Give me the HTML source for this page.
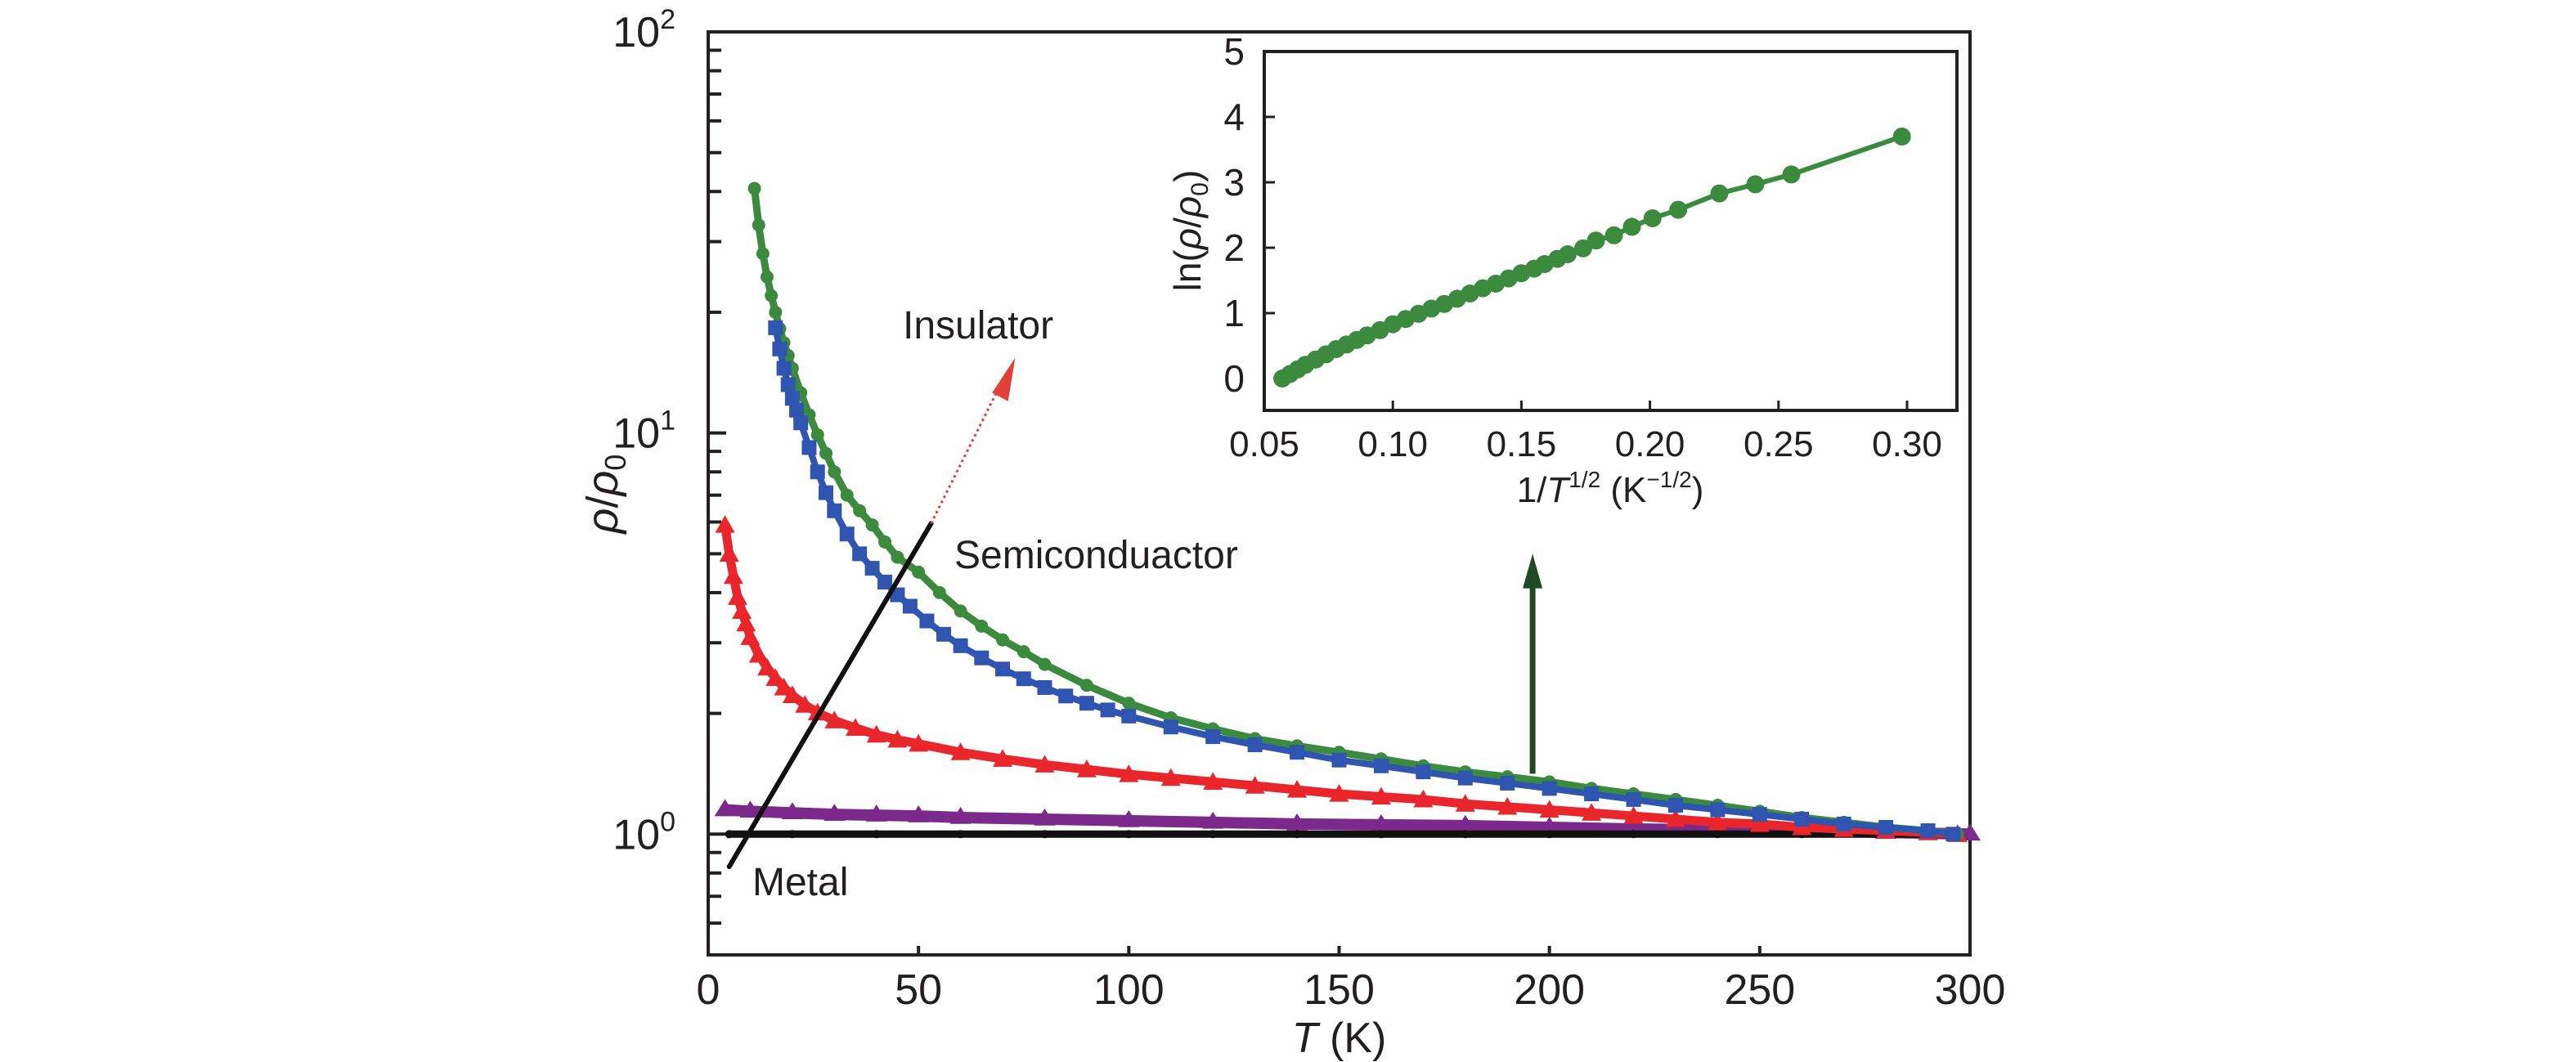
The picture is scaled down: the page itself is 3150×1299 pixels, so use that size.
<!DOCTYPE html>
<html><head><meta charset="utf-8"><style>
html,body{margin:0;padding:0;background:#fff}
svg{display:block}
text{font-family:"Liberation Sans Narrow","Liberation Sans",sans-serif;fill:#231f20}
</style></head><body>
<svg id="chart" width="3150" height="1299" viewBox="0 0 3150 1299" xmlns="http://www.w3.org/2000/svg">
<g id="main"></g><g id="inset"></g>
</svg>
<script>
// ---- main chart data ----
const greenT = [11,12,13,14,15,16,17,18,19,20,22,24,26,28,30,33,36,39,42,45,50,55,60,65,70,75,80,90,100,110,120,130,140,150,160,170,180,190,200,210,220,230,240,250,260,270,280,290,297];
const greenR = [40.7,33,28,24.5,22,20,18.2,16.8,15.6,14.5,12.6,11.1,9.9,8.9,8.0,7.0,6.4,5.9,5.35,4.9,4.5,4.0,3.6,3.3,3.05,2.85,2.65,2.35,2.12,1.95,1.83,1.73,1.66,1.60,1.54,1.48,1.43,1.39,1.35,1.30,1.26,1.22,1.18,1.14,1.10,1.07,1.04,1.02,1.0];
const blueT = [16,17,18,19,20,21,22,24,26,28,30,33,36,39,42,45,48,52,56,60,65,70,75,80,85,90,95,100,110,120,130,140,150,160,170,180,190,200,210,220,230,240,250,260,270,280,290,296];
const blueR = [18.3,16.2,14.5,13.2,12.2,11.4,10.6,9.2,8.0,7.1,6.4,5.6,5.0,4.6,4.25,3.95,3.7,3.4,3.15,2.95,2.75,2.58,2.44,2.32,2.21,2.12,2.04,1.97,1.85,1.75,1.67,1.60,1.53,1.48,1.43,1.38,1.34,1.30,1.26,1.22,1.18,1.15,1.12,1.09,1.06,1.04,1.02,1.0];
const redT = [4,5,6,7,8,9,10,12,14,16,18,20,23,26,30,35,40,45,50,60,70,80,90,100,110,120,130,140,150,160,170,180,190,200,210,220,230,240,250,260,270,280,290,297];
const redR = [5.9,5.0,4.4,3.9,3.6,3.35,3.1,2.8,2.6,2.45,2.32,2.22,2.1,2.01,1.92,1.84,1.77,1.72,1.68,1.60,1.54,1.49,1.45,1.41,1.38,1.35,1.32,1.29,1.26,1.24,1.22,1.19,1.17,1.15,1.13,1.11,1.09,1.07,1.06,1.04,1.03,1.02,1.01,1.0];
const purpleT = [4,10,20,30,40,50,60,80,100,120,140,160,180,200,220,240,260,280,300];
const purpleR = [1.15,1.14,1.13,1.12,1.115,1.11,1.10,1.09,1.08,1.07,1.06,1.055,1.05,1.04,1.03,1.025,1.02,1.01,1.0];
const blackT = [5,20,40,60,80,100,120,140,160,180,200,220,240,260,280,294];
const blackR = [1,1,1,1,1,1,1,1,1,1,1,1,1,1,1,1];
const xTicks = [0,50,100,150,200,250,300];
const yDecades = [0,1,2];
// ---- inset data ----
const insetX = [0.057,0.060,0.063,0.066,0.070,0.074,0.078,0.082,0.086,0.090,0.095,0.100,0.105,0.110,0.115,0.120,0.125,0.130,0.135,0.140,0.145,0.150,0.155,0.159,0.164,0.168,0.174,0.179,0.186,0.193,0.201,0.211,0.227,0.241,0.255,0.298];
const insetY = [0,0.07,0.14,0.21,0.29,0.37,0.45,0.52,0.59,0.66,0.74,0.83,0.91,0.99,1.07,1.14,1.22,1.30,1.38,1.45,1.53,1.61,1.68,1.75,1.83,1.90,1.99,2.11,2.19,2.32,2.45,2.58,2.83,2.97,3.12,3.70];
const insetXTicks = ["0.05","0.10","0.15","0.20","0.25","0.30"];
const insetYTicks = [0,1,2,3,4,5];

const NS="http://www.w3.org/2000/svg";
function mk(tag,attrs,parent){const e=document.createElementNS(NS,tag);for(const k in attrs)e.setAttribute(k,attrs[k]);parent.appendChild(e);return e;}
const main=document.getElementById('main');
const L=866,R=2409,T=39,B=1168;
const X=t=>L+(t-0)/300*(R-L);
const lmin=Math.log10(0.5),lmax=2;
const Y=v=>B-(Math.log10(v)-lmin)/(lmax-lmin)*(B-T);

let fr=mk('rect',{x:L,y:T,width:R-L,height:B-T,fill:'none',stroke:'#231f20','stroke-width':4},main);


xTicks.forEach(t=>{
  const l=mk('line',{x1:X(t),x2:X(t),y1:B,y2:B-11,stroke:'#231f20','stroke-width':4},main);
  
  
  const tx=mk('text',{x:X(t),y:1228,'font-size':52,'text-anchor':'middle'},main);
  tx.textContent=t;
  
  
});
for(let d=-1;d<=1;d++){for(let m=1;m<=9;m++){const v=m*Math.pow(10,d);if(v<0.5||v>100)continue;
  const len=(m===1)?22:16;
  const l=mk('line',{x1:L,x2:L+len,y1:Y(v),y2:Y(v),stroke:'#231f20','stroke-width':4},main);
  
  
}}
yDecades.forEach(d=>{
  const tx=mk('text',{x:826,y:Y(Math.pow(10,d))+18,'font-size':52,'text-anchor':'end'},main);
  tx.innerHTML='10<tspan dy="-22" font-size="34">'+d+'</tspan>';
  
  
});
let xt=mk('text',{x:X(150),y:1287,'font-size':52,'text-anchor':'middle'},main);
xt.innerHTML='<tspan font-style="italic">T</tspan> (K)';


let yt=mk('text',{x:0,y:0,'font-size':54,'text-anchor':'middle',transform:'translate(755,604) rotate(-90)'},main);
yt.innerHTML='<tspan font-style="italic">ρ</tspan>/<tspan font-style="italic">ρ</tspan><tspan dy="10" font-size="36">0</tspan>';



function series(ts,vs,color,shape,name,size,lw){
  const g=mk('g',{},main);
  
  
  mk('polyline',{points:ts.map((t,i)=>X(t)+','+Y(vs[i])).join(' '),fill:'none',stroke:color,'stroke-width':lw,'stroke-linejoin':'round'},g);
  ts.forEach((t,i)=>{const x=X(t),y=Y(vs[i]);let e;
    if(shape==='circle')e=mk('circle',{cx:x,cy:y,r:size,fill:color},g);
    else if(shape==='square')e=mk('rect',{x:x-size,y:y-size,width:2*size,height:2*size,fill:color},g);
    else if(shape==='tri')e=mk('polygon',{points:`${x},${y-size} ${x-size},${y+size*0.8} ${x+size},${y+size*0.8}`,fill:color},g);
    else if(shape==='star')e=mk('polygon',{points:`${x},${y-size} ${x-size},${y+size*0.6} ${x+size},${y+size*0.6}`,fill:color},g);
    else e=mk('circle',{cx:x,cy:y,r:size,fill:color},g);
    
    
  });
}
series(purpleT,purpleR,'#7b2a8c','star','purple-series',13,14);
series(blackT,blackR,'#111','dot','black-series',5,9);
series(redT,redR,'#e8262b','tri','red-series',12,11);
series(greenT,greenR,'#3b8a3e','circle','green-series',8,9);
series(blueT,blueR,'#2f55b0','square','blue-series',9,8);

let bl=mk('line',{x1:X(5),y1:Y(0.83),x2:X(53),y2:Y(5.95),stroke:'#111','stroke-width':6,'stroke-linecap':'round'},main);


let rd=mk('line',{x1:X(53),y1:Y(5.95),x2:X(71),y2:Y(14.2),stroke:'#e0403a','stroke-width':3,'stroke-dasharray':'3 4'},main);


let rh=mk('polygon',{points:`${X(73)},${Y(15.4)} ${X(67.5)},${Y(12.6)} ${X(71.3)},${Y(12.0)}`,fill:'#e0403a'},main);


let ga=mk('line',{x1:X(196),y1:Y(1.415),x2:X(196),y2:Y(4.2),stroke:'#1f4a24','stroke-width':7},main);


let gh=mk('polygon',{points:`${X(196)},${Y(5.0)} ${X(196)-12},${Y(4.1)} ${X(196)+12},${Y(4.1)}`,fill:'#1f4a24'},main);


[['Insulator',1104,414,'insulator-label'],['Semiconduactor',1167,695,'semiconductor-label'],['Metal',920,1095,'metal-label']].forEach(a=>{
  const tx=mk('text',{x:a[1],y:a[2],'font-size':48},main);
  tx.textContent=a[0];
  
  
});

const ins=document.getElementById('inset');
const iL=1546,iR=2393,iT=63,iB=502;
const IX=v=>iL+(v-0.05)/0.25*(2332-1546);
const IY=v=>463-v*80;
let ifr=mk('rect',{x:iL,y:iT,width:iR-iL,height:iB-iT,fill:'#fff',stroke:'#231f20','stroke-width':4},ins);


insetXTicks.forEach(s=>{const v=parseFloat(s);
  const l=mk('line',{x1:IX(v),x2:IX(v),y1:iB,y2:iB-12,stroke:'#231f20','stroke-width':3},ins);
  
  
  const tx=mk('text',{x:IX(v),y:558,'font-size':44,'text-anchor':'middle'},ins);
  tx.textContent=s;
  
  
});
insetYTicks.forEach(v=>{
  if(v>0&&v<5){const l=mk('line',{x1:iL,x2:iL+13,y1:IY(v),y2:IY(v),stroke:'#231f20','stroke-width':3},ins);
  
  }
  const tx=mk('text',{x:1522,y:IY(v)+16,'font-size':46,'text-anchor':'end'},ins);
  tx.textContent=v;
  
  
});
let ixt=mk('text',{x:1969,y:614,'font-size':44,'text-anchor':'middle'},ins);
ixt.innerHTML='1/<tspan font-style="italic">T</tspan><tspan dy="-18" font-size="28">1/2</tspan><tspan dy="18"> (K</tspan><tspan dy="-18" font-size="28">−1/2</tspan><tspan dy="18">)</tspan>';


let iyt=mk('text',{x:0,y:0,'font-size':46,'text-anchor':'middle',transform:'translate(1468,282) rotate(-90)'},ins);
iyt.innerHTML='ln(<tspan font-style="italic">ρ</tspan>/<tspan font-style="italic">ρ</tspan><tspan dy="9" font-size="30">0</tspan><tspan dy="-9">)</tspan>';


const ig=mk('g',{},ins);


mk('polyline',{points:insetX.map((v,i)=>IX(v)+','+IY(insetY[i])).join(' '),fill:'none',stroke:'#3b8a3e','stroke-width':6},ig);
insetX.forEach((v,i)=>{
  const c=mk('circle',{cx:IX(v),cy:IY(insetY[i]),r:11,fill:'#3b8a3e'},ig);
  
  
});
</script>
</body></html>
